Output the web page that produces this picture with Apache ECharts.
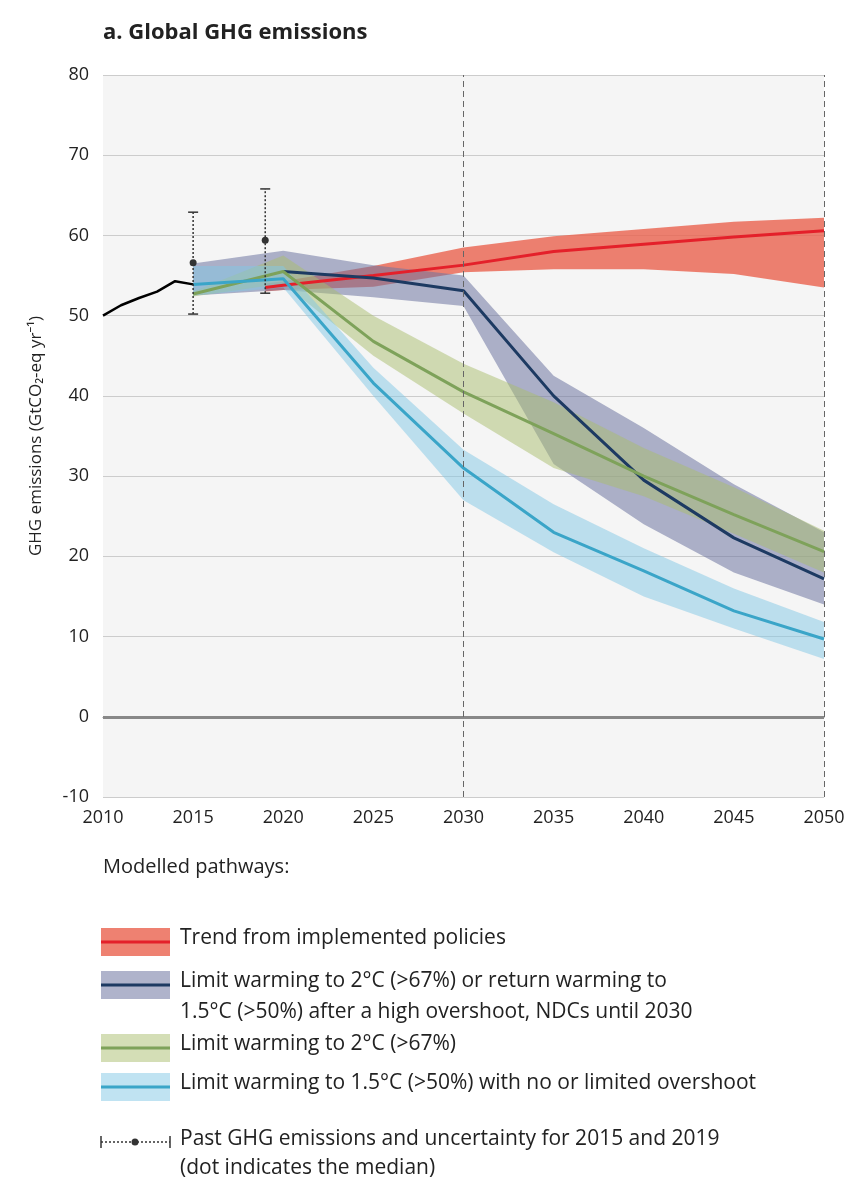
<!DOCTYPE html>
<html><head><meta charset="utf-8">
<script src="https://cdn.jsdelivr.net/npm/echarts@6/dist/echarts.min.js"></script>
<style>html,body{margin:0;padding:0;background:#fff}#c{width:850px;height:1200px}</style>
</head><body><div id="c"></div>
<script>
const years = [2015, 2020, 2025, 2030, 2035, 2040, 2045, 2050];
const histYears = [2010, 2011, 2012, 2013, 2014, 2015];
const histValues = [50, 51.3, 52.2, 53, 54.3, 53.9];
const errYears = [2015, 2019];
const errMedian = [56.6, 59.4];
const errLow = [50.2, 52.8];
const errHigh = [62.9, 65.8];

const redYears = [2019, 2020, 2025, 2030, 2035, 2040, 2045, 2050];
const redMed = [53.5, 53.8, 55, 56.3, 58, 58.9, 59.8, 60.6];
const redLow = [53, 53.2, 53.6, 55.4, 55.8, 55.8, 55.2, 53.5];
const redHigh = [54, 54.3, 56.2, 58.5, 59.9, 60.8, 61.7, 62.2];

const ndcMed = [null, 55.5, 54.7, 53.1, 40, 29.5, 22.3, 17.2];
const ndcLow = [52.5, 53.2, 52.3, 51.2, 31.5, 24, 18, 14];
const ndcHigh = [56.5, 58.1, 56.3, 55, 42.5, 36, 29, 23];

const c2Med = [52.7, 55.5, 46.8, 40.5, 35.3, 30, 25.2, 20.6];
const c2Low = [52.4, 54, 45, 37.8, 31, 27.5, 22.8, 18];
const c2High = [53, 57.5, 50, 44, 39.2, 33.5, 28.6, 23.2];

const c15Med = [53.9, 54.6, 41.6, 31, 23, 18.2, 13.2, 9.7];
const c15Low = [52.5, 53.5, 40, 27, 20.5, 15, 11, 7.2];
const c15High = [56.2, 56.2, 43.5, 33.3, 26.5, 21, 16, 11.8];

const FONT = '"Open Sans", "Noto Sans", sans-serif';
const COL = {
  red: {line:'#e4202a', band:'rgba(234,98,78,0.8)'},
  ndc: {line:'#1d3a62', band:'rgba(110,116,160,0.55)'},
  c2: {line:'#7ea25a', band:'rgba(170,190,110,0.5)'},
  c15: {line:'#3aa5c8', band:'rgba(130,200,230,0.5)'}
};
const pairs = (xs, ys) => xs.map((x,i)=>[x, ys[i]]);
function band(xs, lo, hi, color){
  return {type:'custom', z:1, silent:true, coordinateSystem:'cartesian2d',
    data:[[xs[0], lo[0]]],
    renderItem:(params, api)=>{
      const pts = xs.map((x,i)=>api.coord([x, hi[i]]));
      for(let i=xs.length-1;i>=0;i--) pts.push(api.coord([xs[i], lo[i]]));
      return {type:'polygon', shape:{points:pts}, style:{fill:color}};
    }};
}
function medLine(xs, ys, color){
  return {type:'line', data:pairs(xs, ys).filter(p=>p[1]!==null), symbol:'none', lineStyle:{color:color, width:3}, z:3};
}
const series = [
  band(redYears, redLow, redHigh, COL.red.band),
  band(years, ndcLow, ndcHigh, COL.ndc.band),
  band(years, c2Low, c2High, COL.c2.band),
  band(years, c15Low, c15High, COL.c15.band),
  medLine(redYears, redMed, COL.red.line),
  medLine(years, ndcMed, COL.ndc.line),
  medLine(years, c2Med, COL.c2.line),
  medLine(years, c15Med, COL.c15.line),
  {type:'line', data:pairs(histYears, histValues), symbol:'none', lineStyle:{color:'#000', width:2.5}, z:4,
   markLine:{symbol:'none', silent:true, label:{show:false},
     data:[
       {yAxis:0, lineStyle:{color:'#888', width:3, type:'solid'}},
       {xAxis:2030, lineStyle:{color:'#666', width:1, type:[6,4]}},
       {xAxis:2050, lineStyle:{color:'#666', width:1, type:[6,4]}}
     ]}},
  {type:'custom', z:5, data:errYears.map((y,i)=>[y, errLow[i], errHigh[i], errMedian[i]]),
   renderItem:(params, api)=>{
     const lo = api.coord([api.value(0), api.value(1)]);
     const hi = api.coord([api.value(0), api.value(2)]);
     const md = api.coord([api.value(0), api.value(3)]);
     const st = {stroke:'#333', lineWidth:1.5};
     return {type:'group', children:[
       {type:'line', shape:{x1:lo[0],y1:lo[1],x2:hi[0],y2:hi[1]}, style:{stroke:'#333', lineWidth:1.5, lineDash:[2,2]}},
       {type:'line', shape:{x1:lo[0]-5,y1:lo[1],x2:lo[0]+5,y2:lo[1]}, style:st},
       {type:'line', shape:{x1:hi[0]-5,y1:hi[1],x2:hi[0]+5,y2:hi[1]}, style:st},
       {type:'circle', shape:{cx:md[0], cy:md[1], r:3.5}, style:{fill:'#333'}}
     ]};
   }}
];

const legendRows = [
  {y:942, c:COL.red, t:['Trend from implemented policies']},
  {y:985, c:COL.ndc, t:['Limit warming to 2°C (>67%) or return warming to','1.5°C (>50%) after a high overshoot, NDCs until 2030']},
  {y:1048, c:COL.c2, t:['Limit warming to 2°C (>67%)']},
  {y:1087, c:COL.c15, t:['Limit warming to 1.5°C (>50%) with no or limited overshoot']}
];
const graphic = [
  {type:'text', left:103, top:22, style:{text:'a. Global GHG emissions', font:'bold 22px '+FONT, fill:'#222'}},
  {type:'text', left:103, top:857, style:{text:'Modelled pathways:', font:'20px '+FONT, fill:'#222'}}
];
legendRows.forEach(r=>{
  graphic.push({type:'rect', shape:{x:101,y:r.y-14,width:69,height:28}, style:{fill:r.c.band}});
  graphic.push({type:'line', shape:{x1:101,y1:r.y,x2:170,y2:r.y}, style:{stroke:r.c.line, lineWidth:3}});
  r.t.forEach((tx,i)=>graphic.push({type:'text', left:180, top:r.y-14+i*31, style:{text:tx, font:'21px '+FONT, fill:'#222'}}));
});
graphic.push({type:'line', shape:{x1:101,y1:1142,x2:170,y2:1142}, style:{stroke:'#333', lineWidth:1.5, lineDash:[2,2]}});
graphic.push({type:'line', shape:{x1:101,y1:1136,x2:101,y2:1148}, style:{stroke:'#333', lineWidth:1.5}});
graphic.push({type:'line', shape:{x1:170,y1:1136,x2:170,y2:1148}, style:{stroke:'#333', lineWidth:1.5}});
graphic.push({type:'circle', shape:{cx:135, cy:1142, r:3.5}, style:{fill:'#333'}});
graphic.push({type:'text', left:180, top:1129, style:{text:'Past GHG emissions and uncertainty for 2015 and 2019', font:'21px '+FONT, fill:'#222'}});
graphic.push({type:'text', left:180, top:1158, style:{text:'(dot indicates the median)', font:'21px '+FONT, fill:'#222'}});

const chart = echarts.init(document.getElementById('c'));
chart.setOption({
  animation:false,
  textStyle:{fontFamily:FONT},
  grid:{left:103, right:26, top:75, bottom:403, show:true, backgroundColor:'#f5f5f5', borderWidth:0},
  xAxis:{type:'value', min:2010, max:2050, interval:5,
    axisLine:{show:true, lineStyle:{color:'#888'}}, axisTick:{show:false}, splitLine:{show:false},
    axisLabel:{color:'#222', fontSize:18, margin:12, formatter:v=>String(v)}},
  yAxis:{type:'value', min:-10, max:80, interval:10,
    name:'GHG emissions (GtCO₂-eq yr⁻¹)', nameLocation:'middle', nameGap:58, nameRotate:90,
    nameTextStyle:{color:'#222', fontSize:17},
    axisLine:{show:false}, axisTick:{show:false},
    splitLine:{lineStyle:{color:'#ccc', width:1}},
    axisLabel:{color:'#222', fontSize:18, margin:14}},
  series:series,
  graphic:graphic
});
</script></body></html>
